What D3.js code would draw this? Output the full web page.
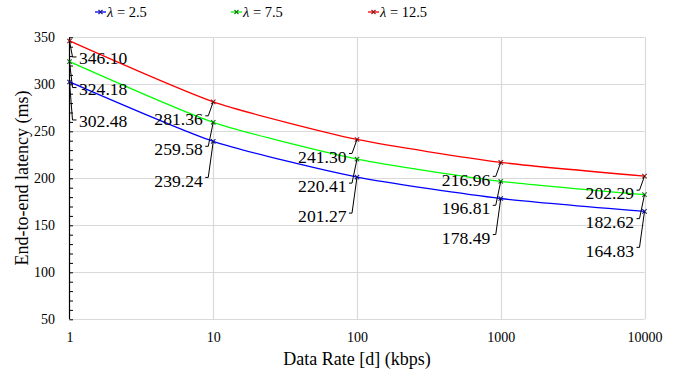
<!DOCTYPE html>
<html>
<head>
<meta charset="utf-8">
<script src="https://cdn.jsdelivr.net/npm/d3@7"></script>
<style>
  html, body { margin: 0; padding: 0; background: #fff; }
  svg { display: block; }
  svg text { font-family: "Liberation Serif", "Times New Roman", serif; }
</style>
</head>
<body>
<svg id="chart" width="691" height="372"></svg>
<script>
// Data rate (kbps) on a log axis
const dataRates = [1, 10, 100, 1000, 10000];
const seriesNames = ["2.5", "7.5", "12.5"];
const latencyL25 = [302.48, 239.24, 201.27, 178.49, 164.83];
const latencyL75 = [324.18, 259.58, 220.41, 196.81, 182.62];
const latencyL125 = [346.10, 281.36, 241.30, 216.96, 202.29];
const yTicks = [50, 100, 150, 200, 250, 300, 350];
const xTickLabels = ["1", "10", "100", "1000", "10000"];

(function () {
const FONT = "Liberation Serif";
const seriesValues = [latencyL25, latencyL75, latencyL125];
const lineColors = ["#0000ff", "#00ff00", "#ff0000"];
const markColors = ["#1a1a8c", "#1a6e1a", "#8c1a1a"];
// vertical drop of each series' value label below its point
const labelDrop = [39, 27, 17];

const svg = d3.select("#chart");
const plotLeft = 69.5, plotRight = 644.5, plotTop = 37.3, plotBottom = 319.3;

const x = d3.scaleLog().domain([1, 10000]).range([plotLeft, plotRight]);
const y = d3.scaleLinear().domain([50, 350]).range([plotBottom, plotTop]);

// gridlines
const grid = svg.append("g");
grid.selectAll("line.h").data(yTicks).join("line")
  .attr("x1", plotLeft).attr("x2", plotRight)
  .attr("y1", d => Math.round(y(d)) + 0.5).attr("y2", d => Math.round(y(d)) + 0.5)
  .attr("stroke", "#d9d9d9").attr("stroke-width", 1.2);
grid.selectAll("line.v").data(dataRates.slice(1)).join("line")
  .attr("x1", d => Math.round(x(d)) + 0.5).attr("x2", d => Math.round(x(d)) + 0.5)
  .attr("y1", plotTop).attr("y2", plotBottom)
  .attr("stroke", "#d9d9d9").attr("stroke-width", 1.2);

// left axis with inward minor ticks every 10
const yAxis = d3.axisRight(y)
  .tickValues(d3.range(50, 351, 10))
  .tickSize(3.5)
  .tickFormat("");
const ya = svg.append("g").attr("transform", `translate(${plotLeft},0)`).call(yAxis);
ya.select(".domain").attr("stroke", "#000").attr("stroke-width", 1.2).attr("d", `M0,${plotTop}V${plotBottom}`);
ya.selectAll(".tick line").attr("stroke", "#000").attr("stroke-width", 1);

// y tick labels
svg.append("g").selectAll("text").data(yTicks).join("text")
  .attr("x", 55).attr("y", d => y(d)).attr("dy", "0.35em")
  .attr("text-anchor", "end").attr("font-family", FONT).attr("font-size", 14).attr("fill", "#000")
  .text(d => d);

// x tick labels
const xAxis = d3.axisBottom(x).tickValues(dataRates).tickSize(0)
  .tickFormat((d, i) => xTickLabels[i]).tickPadding(13);
const xa = svg.append("g").attr("transform", `translate(0,${plotBottom})`).call(xAxis)
  .attr("font-family", FONT);
xa.select(".domain").remove();
xa.selectAll("text").attr("font-size", 14).attr("font-family", FONT).attr("fill", "#000");

// axis titles
svg.append("text").attr("x", 357).attr("y", 365).attr("text-anchor", "middle")
  .attr("font-family", FONT).attr("font-size", 18).text("Data Rate [d] (kbps)");
svg.append("text").attr("transform", "translate(28,178) rotate(-90)")
  .attr("text-anchor", "middle").attr("font-family", FONT).attr("font-size", 18)
  .text("End-to-end latency (ms)");

// series lines
const line = d3.line().x((d, i) => x(dataRates[i])).y(d => y(d)).curve(d3.curveCardinal.tension(0.4));
seriesValues.forEach((vals, s) => {
  svg.append("path").datum(vals).attr("d", line)
    .attr("fill", "none").attr("stroke", lineColors[s]).attr("stroke-width", 1.3);
});

// x-shaped markers
function cross(g, cx, cy, r, color) {
  g.append("path")
    .attr("d", `M${cx - r},${cy - r}L${cx + r},${cy + r}M${cx - r},${cy + r}L${cx + r},${cy - r}`)
    .attr("stroke", color).attr("stroke-width", 1.1).attr("fill", "none");
}
const marks = svg.append("g");
seriesValues.forEach((vals, s) => {
  vals.forEach((v, i) => cross(marks, x(dataRates[i]), y(v), 2.2, markColors[s]));
});

// value labels with leader lines
const labels = svg.append("g");
seriesValues.forEach((vals, s) => {
  vals.forEach((v, i) => {
    const px = x(dataRates[i]), py = y(v);
    const ly = py + labelDrop[s];
    if (i === 0) {
      labels.append("path")
        .attr("d", `M${px},${py}L${px + 3},${ly - 1}L${px + 7},${ly - 1}`)
        .attr("stroke", "#000").attr("fill", "none").attr("stroke-width", 1);
      labels.append("text").attr("x", px + 9.5).attr("y", ly).attr("dy", "0.35em")
        .attr("font-family", FONT).attr("font-size", 17.6).attr("fill", "#000").text(v.toFixed(2));
    } else {
      labels.append("path")
        .attr("d", `M${px},${py}L${px - 5},${ly - 3}L${px - 8},${ly - 3}`)
        .attr("stroke", "#000").attr("fill", "none").attr("stroke-width", 1);
      labels.append("text").attr("x", px - 10.5).attr("y", ly).attr("dy", "0.35em")
        .attr("text-anchor", "end").attr("font-family", FONT).attr("font-size", 17.6)
        .attr("fill", "#000").text(v.toFixed(2));
    }
  });
});

// legend
const legendX = [95, 231, 368];
const legend = svg.append("g");
seriesNames.forEach((name, s) => {
  const lx = legendX[s], ly = 12;
  legend.append("line").attr("x1", lx).attr("x2", lx + 11).attr("y1", ly).attr("y2", ly)
    .attr("stroke", lineColors[s]).attr("stroke-width", 1.3);
  cross(legend, lx + 5.5, ly, 2, markColors[s]);
  const t = legend.append("text").attr("x", lx + 12).attr("y", ly).attr("dy", "0.35em")
    .attr("font-family", FONT).attr("font-size", 14.5).attr("fill", "#000");
  t.append("tspan").attr("font-style", "italic").text("λ");
  t.append("tspan").text(" = " + name);
});
})();
</script>
</body>
</html>
